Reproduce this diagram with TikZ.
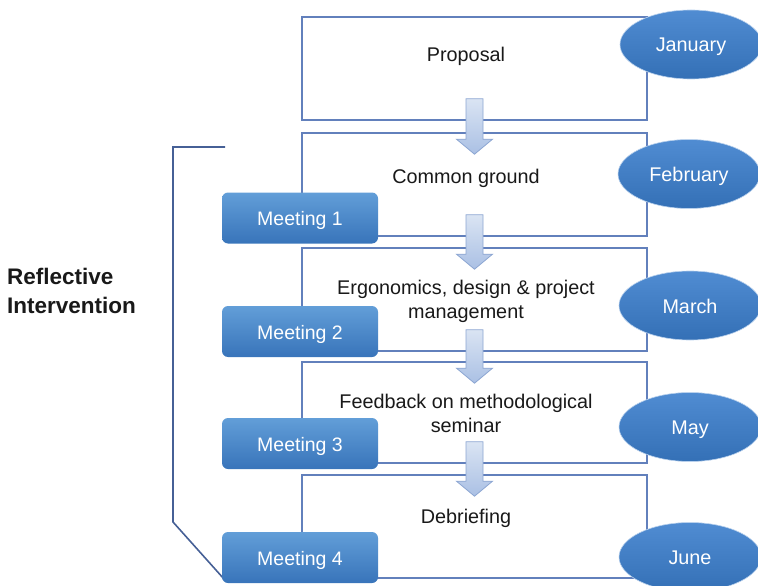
\documentclass[tikz,border=0pt]{standalone}
\usepackage{fontspec}
\setmainfont{Liberation Sans}
\usetikzlibrary{shapes.geometric,calc}
\definecolor{boxline}{RGB}{98,128,188}
\definecolor{brk}{RGB}{70,96,150}
\definecolor{meettop}{RGB}{98,158,216}
\definecolor{meetbot}{RGB}{56,116,186}
\definecolor{elltop}{RGB}{80,140,210}
\definecolor{ellbot}{RGB}{52,112,182}
\definecolor{arrtop}{RGB}{218,228,243}
\definecolor{arrbot}{RGB}{170,192,228}
\definecolor{arrline}{RGB}{140,166,210}
\tikzset{
  stage/.style={draw=boxline, line width=1.6pt, fill=white, minimum width=345pt, minimum height=103pt, inner sep=0pt},
  stagetext/.style={font=\fontsize{19.8}{23.5}\selectfont, align=center, text=black!90, inner sep=0pt, anchor=base},
  meet/.style={rounded corners=6pt, top color=meettop, bottom color=meetbot, minimum width=156pt, minimum height=51pt, inner sep=0pt, text=white, font=\fontsize{19.5}{23}\selectfont, text height=17pt, text depth=2pt},
  month/.style={ellipse, draw=white!60!elltop, line width=0.6pt, top color=elltop, bottom color=ellbot, minimum width=142pt, minimum height=69pt, inner sep=0pt, text=white, font=\fontsize{19.8}{23}\selectfont, text height=17pt, text depth=2pt},
  blockarr/.style={draw=arrline, line width=0.8pt, top color=arrtop, bottom color=arrbot},
  bracket/.style={draw=brk, line width=1.6pt}
}
\newcommand\blockarrow[2]{%
  \path[blockarr] ($(#1.south)+(-8.5,-22)$) -- ($(#1.south)+(8.5,-22)$) -- ($(#2.north)+(8.5,7)$) -- ($(#2.north)+(18,7)$) -- ($(#2.north)+(0,22)$) -- ($(#2.north)+(-18,7)$) -- ($(#2.north)+(-8.5,7)$) -- cycle;}
\begin{document}
\begin{tikzpicture}[x=1pt,y=-1pt]
\useasboundingbox (0,0) rectangle (758,586);
% bracket
\coordinate (k1) at (225,147);
\coordinate (k2) at (173,147);
\coordinate (k3) at (173,522);
\coordinate (k4) at (224,579);
\draw[bracket] (k1) -- (k2) -- (k3) -- (k4);
% stage boxes
\node[stage] (b1) at (474.5,68.5) {};
\node[stage] (b2) at (474.5,184.5) {};
\node[stage] (b3) at (474.5,299.5) {};
\node[stage, minimum height=101pt] (b4) at (474.5,412.5) {};
\node[stage] (b5) at (474.5,526.5) {};
% arrows
\blockarrow{b1}{b2}
\blockarrow{b2}{b3}
\blockarrow{b3}{b4}
\blockarrow{b4}{b5}
% texts
\node[stagetext] (t1) at (466,62) {Proposal};
\node[stagetext] (t2) at (466,183) {Common ground};
\node[stagetext] (t3) at (466,318) {Ergonomics, design \& project\\management};
\node[stagetext] (t4) at (466,432) {Feedback on methodological\\seminar};
\node[stagetext] (t5) at (466,523) {Debriefing};
% meetings
\node[meet] (m1) at (300,218) {Meeting 1};
\node[meet] (m2) at (300,331.5) {Meeting 2};
\node[meet] (m3) at (300,443.5) {Meeting 3};
\node[meet] (m4) at (300,557.5) {Meeting 4};
% months
\node[month] (j1) at (691,44.5) {January};
\node[month] (j2) at (689,174) {February};
\node[month] (j3) at (690,305.5) {March};
\node[month] (j4) at (690,427) {May};
\node[month] (j5) at (690,557) {June};
% label
\node[font=\fontsize{22.5}{29}\selectfont\bfseries, align=left, anchor=west, inner sep=0pt, text=black!90] (ri) at (7,291) {Reflective\\Intervention};
\end{tikzpicture}
\end{document}
